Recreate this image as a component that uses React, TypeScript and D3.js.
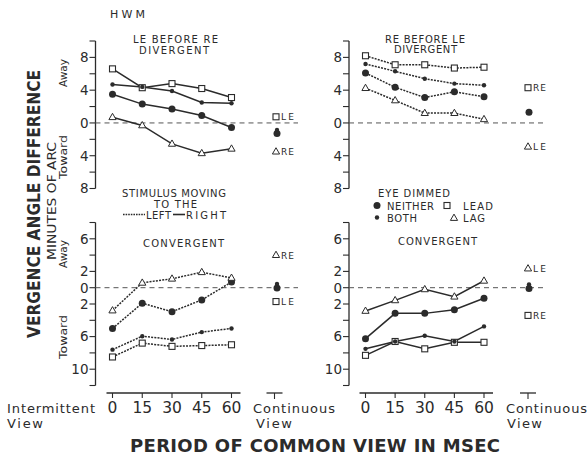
import React from 'react';
import * as d3 from 'd3';

// ---------- data ----------
const periods = [0, 15, 30, 45, 60];
const periodLabels = ['0', '15', '30', '45', '60'];
const topTickValues = [8, 4, 0, -4, -8];
const bottomTickValues = [6, 2, 0, -2, -6, -10];

// Top-left: LE before RE, divergent (solid)
const tlLead = [6.6, 4.3, 4.8, 4.2, 3.1];
const tlBoth = [4.7, 4.4, 3.9, 2.5, 2.4];
const tlNeither = [3.5, 2.3, 1.7, 0.9, -0.55];
const tlLag = [0.7, -0.3, -2.55, -3.7, -3.15];
const tlCont = { lead: 0.75, both: -0.85, neither: -1.3, lag: -3.5, leadLabel: 'LE', lagLabel: 'RE' };

// Top-right: RE before LE, divergent (dotted)
const trLead = [8.2, 7.1, 7.1, 6.7, 6.8];
const trBoth = [7.2, 6.3, 5.4, 4.8, 4.6];
const trNeither = [6.1, 4.35, 3.1, 3.8, 3.2];
const trLag = [4.25, 2.75, 1.2, 1.2, 0.45];
const trCont = { lead: 4.3, both: null, neither: 1.3, lag: -2.9, leadLabel: 'RE', lagLabel: 'LE' };

// Bottom-left: stimulus moving to the left, convergent (dotted)
const blLead = [-8.5, -6.8, -7.2, -7.1, -7.0];
const blBoth = [-7.6, -5.95, -6.35, -5.45, -5.0];
const blNeither = [-5.0, -1.9, -2.95, -1.5, 0.7];
const blLag = [-2.8, 0.6, 1.1, 1.9, 1.2];
const blCont = { lead: -1.7, both: 0.45, neither: -0.05, lag: 4.0, leadLabel: 'LE', lagLabel: 'RE' };

// Bottom-right: stimulus moving to the right, convergent (solid)
const brLead = [-8.3, -6.6, -7.5, -6.7, -6.7];
const brBoth = [-7.5, -6.6, -5.9, -6.6, -4.75];
const brNeither = [-6.25, -3.15, -3.15, -2.7, -1.3];
const brLag = [-2.85, -1.55, -0.2, -1.1, 0.85];
const brCont = { lead: -3.4, both: 0.4, neither: -0.1, lag: 2.35, leadLabel: 'RE', lagLabel: 'LE' };

// ---------- styling ----------
const INK = '#2b2b2b';
const FONT = '"DejaVu Sans", "Liberation Sans", sans-serif';

type MarkType = 'lead' | 'both' | 'neither' | 'lag';

function Mark({ type, x, y }: { type: MarkType; x: number; y: number }) {
  if (type === 'lead') {
    return <rect x={x - 3} y={y - 3} width={6} height={6} fill="#fff" stroke={INK} strokeWidth={1.1} />;
  }
  if (type === 'neither') return <circle cx={x} cy={y} r={3.5} fill={INK} />;
  if (type === 'both') return <circle cx={x} cy={y} r={2.2} fill={INK} />;
  return (
    <path
      d={`M${x},${y - 3.9}L${x + 3.6},${y + 2.4}L${x - 3.6},${y + 2.4}Z`}
      fill="#fff"
      stroke={INK}
      strokeWidth={1}
    />
  );
}

interface PanelProps {
  x0: number;
  x60: number;
  contX: number;
  axisX: number;
  yDomain: [number, number];
  yRange: [number, number];
  tickValues: number[];
  dotted: boolean;
  lead: number[];
  both: number[];
  neither: number[];
  lag: number[];
  cont: any;
  zeroEnd: number;
}

function Panel(p: PanelProps) {
  const x = d3.scaleLinear().domain([0, 60]).range([p.x0, p.x60]);
  const y = d3.scaleLinear().domain(p.yDomain).range(p.yRange);
  const line = d3
    .line<number>()
    .x((_, i) => x(periods[i]))
    .y((d) => y(d));
  const series: { type: MarkType; values: number[] }[] = [
    { type: 'lead', values: p.lead },
    { type: 'both', values: p.both },
    { type: 'neither', values: p.neither },
    { type: 'lag', values: p.lag },
  ];
  const minorTicks = d3.range(p.yDomain[0], p.yDomain[1] + 0.01, 2);
  const dash = p.dotted ? '2 1.2' : undefined;
  return (
    <g>
      <line x1={p.axisX} x2={p.axisX} y1={y(p.yDomain[0])} y2={y(p.yDomain[1])} stroke={INK} strokeWidth={1.3} />
      {minorTicks.map((t) => (
        <line key={t} x1={p.axisX - 6} x2={p.axisX} y1={y(t)} y2={y(t)} stroke={INK} strokeWidth={1.1} />
      ))}
      {p.tickValues.map((t) => (
        <text
          key={'l' + t}
          x={p.axisX - 7}
          y={y(t) + 4.8}
          textAnchor="end"
          fontSize={13.5}
          fontFamily={FONT}
          fill={INK}
        >
          {Math.abs(t)}
        </text>
      ))}
      <line
        x1={p.axisX}
        x2={p.zeroEnd}
        y1={y(0)}
        y2={y(0)}
        stroke="#555"
        strokeWidth={1}
        strokeDasharray="5 4"
      />
      {series.map((s) => (
        <path
          key={'p' + s.type}
          d={line(s.values) || ''}
          fill="none"
          stroke={INK}
          strokeWidth={1.5}
          strokeDasharray={dash}
        />
      ))}
      {series.map((s) =>
        s.values.map((v, i) => <Mark key={s.type + i} type={s.type} x={x(periods[i])} y={y(v)} />)
      )}
      {p.cont.neither !== null && <Mark type="neither" x={p.contX + 1} y={y(p.cont.neither)} />}
      {p.cont.both !== null && <Mark type="both" x={p.contX + 1} y={y(p.cont.both)} />}
      <Mark type="lead" x={p.contX} y={y(p.cont.lead)} />
      <text x={p.contX + 5} y={y(p.cont.lead) + 3.5} fontSize={9} fontFamily={FONT} fill={INK} textLength={13}>
        {p.cont.leadLabel}
      </text>
      <Mark type="lag" x={p.contX} y={y(p.cont.lag)} />
      <text x={p.contX + 5} y={y(p.cont.lag) + 3.5} fontSize={9} fontFamily={FONT} fill={INK} textLength={13}>
        {p.cont.lagLabel}
      </text>
    </g>
  );
}

function T({
  x,
  y,
  len,
  size = 10,
  children,
  weight,
  anchor,
}: {
  x: number;
  y: number;
  len?: number;
  size?: number;
  children: React.ReactNode;
  weight?: string;
  anchor?: string;
}) {
  return (
    <text
      x={x}
      y={y}
      fontSize={size}
      fontFamily={FONT}
      fill={INK}
      fontWeight={weight}
      textAnchor={anchor as any}
      textLength={len}
      lengthAdjust={len ? 'spacing' : undefined}
    >
      {children}
    </text>
  );
}

function RotT({ x, y, len, size, children, weight }: any) {
  return (
    <text
      transform={`translate(${x},${y}) rotate(-90)`}
      textAnchor="middle"
      fontSize={size}
      fontFamily={FONT}
      fill={INK}
      fontWeight={weight}
      textLength={len}
      lengthAdjust="spacingAndGlyphs"
    >
      {children}
    </text>
  );
}

function XAxis({ x0, x60, contX }: { x0: number; x60: number; contX: number }) {
  const x = d3.scaleLinear().domain([0, 60]).range([x0, x60]);
  return (
    <g>
      <line x1={x0 - 6} x2={x60 + 9} y1={393} y2={393} stroke={INK} strokeWidth={1.3} />
      {periods.map((p, i) => (
        <g key={p}>
          <line x1={x(p)} x2={x(p)} y1={393} y2={398} stroke={INK} strokeWidth={1.1} />
          <text x={x(p)} y={413} textAnchor="middle" fontSize={15.5} fontFamily={FONT} fill={INK}>
            {periodLabels[i]}
          </text>
        </g>
      ))}
      <line x1={contX - 8} x2={contX + 8} y1={393} y2={393} stroke={INK} strokeWidth={1.3} />
      <line x1={contX} x2={contX} y1={393} y2={399} stroke={INK} strokeWidth={1.1} />
    </g>
  );
}

export default function App() {
  const topDomain: [number, number] = [-8, 10];
  const topRange: [number, number] = [188.5, 41];
  const botDomain: [number, number] = [-12, 8];
  const botRange: [number, number] = [385.5, 222.5];
  return (
    <svg
      width={588}
      height={458}
      viewBox="0 0 588 458"
      style={{ position: 'absolute', left: 0, top: 0, background: '#fff' }}
    >
      <rect width={588} height={458} fill="#fff" />
      <T x={110} y={18} len={35} size={11}>HWM</T>

      <Panel
        x0={112.5} x60={231.5} contX={276} axisX={95.5}
        yDomain={topDomain} yRange={topRange} tickValues={topTickValues}
        dotted={false} lead={tlLead} both={tlBoth} neither={tlNeither} lag={tlLag}
        cont={tlCont} zeroEnd={298}
      />
      <Panel
        x0={365.5} x60={484} contX={528} axisX={349}
        yDomain={topDomain} yRange={topRange} tickValues={topTickValues}
        dotted={true} lead={trLead} both={trBoth} neither={trNeither} lag={trLag}
        cont={trCont} zeroEnd={545}
      />
      <Panel
        x0={112.5} x60={231.5} contX={276} axisX={95.5}
        yDomain={botDomain} yRange={botRange} tickValues={bottomTickValues}
        dotted={true} lead={blLead} both={blBoth} neither={blNeither} lag={blLag}
        cont={blCont} zeroEnd={298}
      />
      <Panel
        x0={365.5} x60={484} contX={528} axisX={349}
        yDomain={botDomain} yRange={botRange} tickValues={bottomTickValues}
        dotted={false} lead={brLead} both={brBoth} neither={brNeither} lag={brLag}
        cont={brCont} zeroEnd={545}
      />

      <T x={133} y={43} len={85}>LE BEFORE RE</T>
      <T x={139} y={54} len={70}>DIVERGENT</T>
      <T x={385} y={43} len={80}>RE BEFORE LE</T>
      <T x={394} y={53} len={63}>DIVERGENT</T>

      <T x={122} y={197} len={104}>STIMULUS MOVING</T>
      <T x={154} y={208} len={43}>TO THE</T>
      <line x1={123} x2={145} y1={214.5} y2={214.5} stroke={INK} strokeWidth={1.4} strokeDasharray="1.6 1" />
      <T x={146} y={219} len={25}>LEFT</T>
      <line x1={173} x2={185} y1={214.5} y2={214.5} stroke={INK} strokeWidth={1.6} />
      <T x={186} y={219} len={40}>RIGHT</T>
      <T x={143} y={247} len={81}>CONVERGENT</T>

      <T x={378} y={197} len={72}>EYE DIMMED</T>
      <Mark type="neither" x={377} y={205.5} />
      <T x={387} y={209.5} len={47}>NEITHER</T>
      <Mark type="lead" x={447} y={205.5} />
      <T x={463} y={209.5} len={30}>LEAD</T>
      <Mark type="both" x={377} y={217.5} />
      <T x={387} y={221.5} len={30}>BOTH</T>
      <Mark type="lag" x={454} y={218} />
      <T x={463} y={221.5} len={22}>LAG</T>
      <T x={398} y={245} len={79}>CONVERGENT</T>

      <RotT x={40} y={204} len={268} size={17} weight="bold">VERGENCE ANGLE DIFFERENCE</RotT>
      <RotT x={56} y={201} len={118} size={12}>MINUTES OF ARC</RotT>
      <RotT x={67} y={73} len={28} size={11}>Away</RotT>
      <RotT x={67} y={157} len={44} size={11}>Toward</RotT>
      <RotT x={67} y={254} len={28} size={11}>Away</RotT>
      <RotT x={67} y={337} len={44} size={11}>Toward</RotT>

      <XAxis x0={112.5} x60={231.5} contX={274.5} />
      <XAxis x0={365.5} x60={484} contX={528} />
      <T x={7} y={413} len={88} size={13}>Intermittent</T>
      <T x={7} y={428} len={36} size={13}>View</T>
      <T x={253} y={413} len={82} size={13}>Continuous</T>
      <T x={256} y={428} len={36} size={13}>View</T>
      <T x={506} y={413} len={81} size={13}>Continuous</T>
      <T x={507} y={428} len={35} size={13}>View</T>
      <T x={130} y={452} len={370} size={18} weight="bold">PERIOD OF COMMON VIEW IN MSEC</T>
    </svg>
  );
}
